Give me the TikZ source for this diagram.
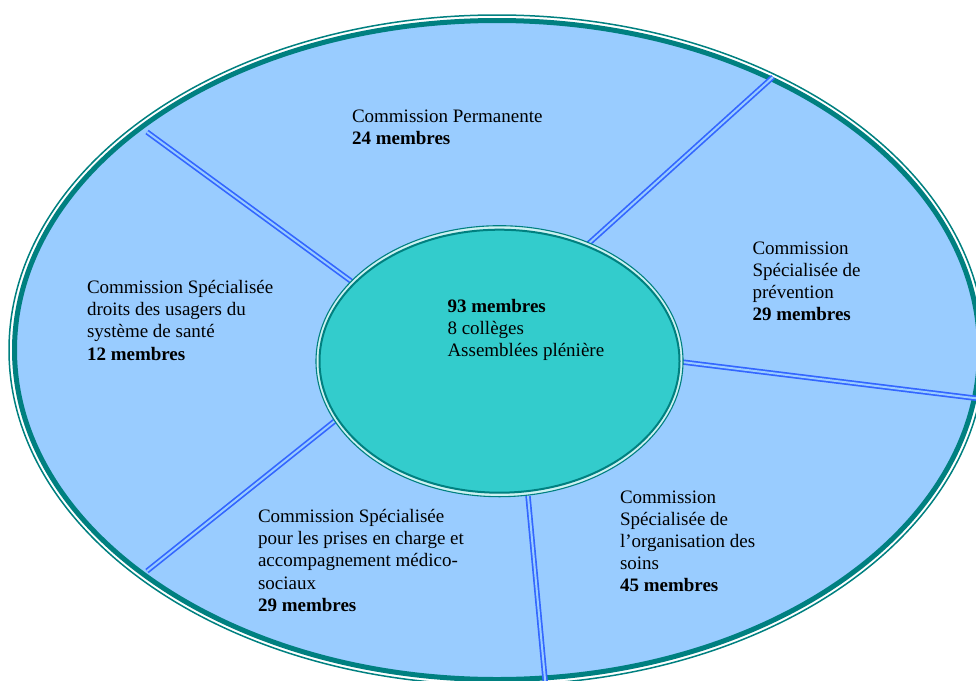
\documentclass[tikz,border=0pt]{standalone}
\usepackage{fontspec}
\setmainfont{Liberation Serif}
\definecolor{outerfill}{HTML}{99CCFF}
\definecolor{tealline}{HTML}{008080}
\definecolor{innerfill}{HTML}{33CCCC}
\definecolor{spokeblue}{HTML}{3366FF}
\begin{document}
\begin{tikzpicture}[x=1pt,y=-1pt,
  lbl/.style={anchor=north west, inner sep=0pt, outer sep=0pt, align=left,
    font=\fontsize{19}{22.1}\selectfont, execute at begin node={\rule{0pt}{16pt}}},
  spokeline/.style={draw=spokeblue, line width=1.7pt, double=outerfill, double distance=2pt},
  thinring/.style={draw=tealline, line width=1.5pt},
  thickring/.style={draw=tealline, line width=5pt}]
\useasboundingbox (0,0) rectangle (976,680);
\clip (0,0) rectangle (976,680);
% outer ellipse
\coordinate (oc) at (497,350);
\fill[outerfill] (oc) ellipse [x radius=483pt, y radius=330pt];
\draw[thickring] (oc) ellipse [x radius=482.5pt, y radius=329.5pt];
\draw[thinring] (oc) ellipse [x radius=488pt, y radius=335pt];
% spokes end points
\coordinate (s1a) at (355,284);  \coordinate (s1b) at (147,132);
\coordinate (s2a) at (587,245);  \coordinate (s2b) at (773,77);
\coordinate (s3a) at (682,362);  \coordinate (s3b) at (990,400);
\coordinate (s4a) at (528,496);  \coordinate (s4b) at (546,690);
\coordinate (s5a) at (336,420);  \coordinate (s5b) at (147,571);
\draw[spokeline] (s1a) -- (s1b);
\draw[spokeline] (s2a) -- (s2b);
\draw[spokeline] (s3a) -- (s3b);
\draw[spokeline] (s4a) -- (s4b);
\draw[spokeline] (s5a) -- (s5b);
% inner ellipse
\coordinate (ic) at (499.5,361.2);
\fill[white!75!innerfill] (ic) ellipse [x radius=183.5pt, y radius=135.5pt];
\fill[innerfill] (ic) ellipse [x radius=180pt, y radius=131.5pt];
\draw[tealline, line width=1.1pt] (ic) ellipse [x radius=183.5pt, y radius=135.5pt];
\draw[tealline, line width=2pt] (ic) ellipse [x radius=180pt, y radius=131.5pt];
% texts
\node[lbl] (cp) at (352,109.5) {Commission Permanente\\\textbf{24 membres}};
\node[lbl] (prev) at (752.5,241.5) {Commission\\Spécialisée de\\prévention\\\textbf{29 membres}};
\node[lbl] (droits) at (87,280.5) {Commission Spécialisée\\droits des usagers du\\système de santé\\\textbf{12 membres}};
\node[lbl] (center) at (447.5,299.5) {\textbf{93 membres}\\8 collèges\\Assemblées plénière};
\node[lbl] (medico) at (258,509.5) {Commission Spécialisée\\pour les prises en charge et\\accompagnement médico-\\sociaux\\\textbf{29 membres}};
\node[lbl] (soins) at (620,490.5) {Commission\\Spécialisée de\\l’organisation des\\soins\\\textbf{45 membres}};
\end{tikzpicture}
\end{document}
